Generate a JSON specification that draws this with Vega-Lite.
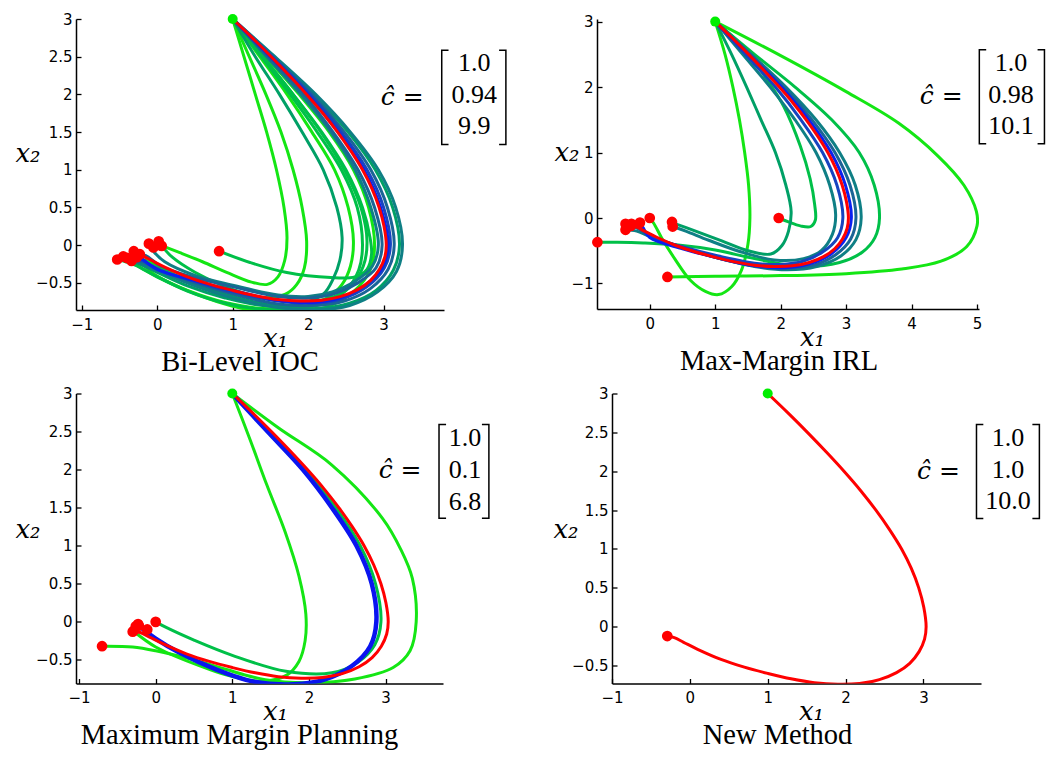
{
"$schema":"https://vega.github.io/schema/vega-lite/v6.json",
"background":"white",
"padding":{"left":14,"top":12,"right":0,"bottom":0},
"config":{
 "view":{"stroke":null},
 "axis":{"grid":false,"domainColor":"#000","domainWidth":1.5,"tickColor":"#000","tickWidth":1.3,"tickSize":-5,"labelFont":"DejaVu Sans","labelFontSize":15,"labelColor":"#000","labelFlush":false,"labelOverlap":false,"titleFont":"DejaVu Serif","titleFontStyle":"italic","titleFontWeight":"normal","titleFontSize":26,"titleColor":"#000"},
 "axisX":{"labelPadding":12,"titleBaseline":"alphabetic"},
 "axisY":{"labelPadding":9,"titleAngle":0,"titleAlign":"right","titleBaseline":"alphabetic"},
 "title":{"font":"Liberation Serif","fontSize":28.5,"fontWeight":"normal","color":"#000","orient":"bottom","anchor":"middle","frame":"group","offset":-3.3}
},
"spacing":9.5,
"vconcat":[
{"hconcat":[
 {"width":368,"height":291,"title":{"text":"Bi-Level IOC","dx":-20},
  "layer":[
   {"data":{"name":"traj1"},"mark":{"type":"line","strokeWidth":3,"clip":true,"interpolate":"catmull-rom"},
    "encoding":{
     "x":{"field":"x","type":"quantitative","scale":{"domain":[-1.076,3.8],"nice":false,"zero":false},"axis":{"values":[-1,0,1,2,3],"format":"~g","title":"x₁","titleX":199,"titleY":36}},
     "y":{"field":"y","type":"quantitative","scale":{"domain":[-0.86,3],"nice":false,"zero":false},"axis":{"values":[-0.5,0,0.5,1,1.5,2,2.5,3],"format":"~g","title":"x₂","titleX":-36,"titleY":142}},
     "color":{"field":"g","type":"nominal","scale":{"domain":["g1","g2","g3","g4","g5","g6","g7"],"range":["#14e614","#00c048","#00a066","#0f7f85","#1a6496","#1744c0","#0a20f0"]},"legend":null},
     "detail":{"field":"c"},
     "order":{"field":"i","type":"quantitative"}}},
   {"data":{"name":"truth"},"mark":{"type":"line","color":"#ff0000","strokeWidth":3,"clip":true,"interpolate":"catmull-rom"},
    "encoding":{"x":{"field":"x","type":"quantitative"},"y":{"field":"y","type":"quantitative"},"order":{"field":"i","type":"quantitative"}}},
   {"data":{"name":"ends1"},"mark":{"type":"point","filled":true,"shape":"circle","size":115,"color":"#ff0000","opacity":1},
    "encoding":{"x":{"field":"x","type":"quantitative"},"y":{"field":"y","type":"quantitative"}}},
   {"data":{"name":"start"},"mark":{"type":"point","filled":true,"shape":"circle","size":100,"color":"#00ee00","opacity":1},
    "encoding":{"x":{"field":"x","type":"quantitative"},"y":{"field":"y","type":"quantitative"}}},
   {"data":{"name":"br1"},"mark":{"type":"line","color":"#000","strokeWidth":1.5},
    "encoding":{"x":{"field":"x","type":"quantitative"},"y":{"field":"y","type":"quantitative"},"detail":{"field":"s"},"order":{"field":"i","type":"quantitative"}}},
   {"data":{"values":[{}]},"mark":{"type":"text","text":"ĉ =","font":"DejaVu Serif","fontStyle":"italic","fontSize":25,"align":"right","baseline":"middle"},
    "encoding":{"x":{"datum":3.53},"y":{"datum":1.96}}},
   {"data":{"values":[{}]},"mark":{"type":"text","text":["1.0","0.94","9.9"],"font":"Liberation Serif","fontSize":26,"align":"center","baseline":"middle","lineHeight":31.5},
    "encoding":{"x":{"datum":4.2},"y":{"datum":2.414}}}
  ]},
 {"width":382,"height":290,"title":{"text":"Max-Margin IRL","dx":-9},
  "layer":[
   {"data":{"name":"traj2"},"mark":{"type":"line","strokeWidth":3,"clip":true,"interpolate":"catmull-rom"},
    "encoding":{
     "x":{"field":"x","type":"quantitative","scale":{"domain":[-0.806,5.03],"nice":false,"zero":false},"axis":{"values":[0,1,2,3,4,5],"format":"~g","title":"x₁","titleX":215,"titleY":36}},
     "y":{"field":"y","type":"quantitative","scale":{"domain":[-1.39,3.04],"nice":false,"zero":false},"axis":{"values":[-1,0,1,2,3],"format":"~g","title":"x₂","titleX":-18,"titleY":141}},
     "color":{"field":"g","type":"nominal","scale":{"domain":["g1","g2","g3","g4","g5","g6","g7"],"range":["#14e614","#00c048","#00a066","#0f7f85","#1a6496","#1744c0","#0a20f0"]},"legend":null},
     "detail":{"field":"c"},
     "order":{"field":"i","type":"quantitative"}}},
   {"data":{"name":"truth"},"mark":{"type":"line","color":"#ff0000","strokeWidth":3,"clip":true,"interpolate":"catmull-rom"},
    "encoding":{"x":{"field":"x","type":"quantitative"},"y":{"field":"y","type":"quantitative"},"order":{"field":"i","type":"quantitative"}}},
   {"data":{"name":"ends2"},"mark":{"type":"point","filled":true,"shape":"circle","size":115,"color":"#ff0000","opacity":1},
    "encoding":{"x":{"field":"x","type":"quantitative"},"y":{"field":"y","type":"quantitative"}}},
   {"data":{"name":"start"},"mark":{"type":"point","filled":true,"shape":"circle","size":100,"color":"#00ee00","opacity":1},
    "encoding":{"x":{"field":"x","type":"quantitative"},"y":{"field":"y","type":"quantitative"}}},
   {"data":{"name":"br2"},"mark":{"type":"line","color":"#000","strokeWidth":1.5},
    "encoding":{"x":{"field":"x","type":"quantitative"},"y":{"field":"y","type":"quantitative"},"detail":{"field":"s"},"order":{"field":"i","type":"quantitative"}}},
   {"data":{"values":[{}]},"mark":{"type":"text","text":"ĉ =","font":"DejaVu Serif","fontStyle":"italic","fontSize":25,"align":"right","baseline":"middle"},
    "encoding":{"x":{"datum":4.78},"y":{"datum":1.858}}},
   {"data":{"values":[{}]},"mark":{"type":"text","text":["1.0","0.98","10.1"],"font":"Liberation Serif","fontSize":26,"align":"center","baseline":"middle","lineHeight":31.7},
    "encoding":{"x":{"datum":5.52},"y":{"datum":2.368}}}
  ]}
 ],"spacing":44},
{"hconcat":[
 {"width":367,"height":290,"title":{"text":"Maximum Margin Planning","dx":-20},
  "layer":[
   {"data":{"name":"traj3"},"mark":{"type":"line","strokeWidth":3,"clip":true,"interpolate":"catmull-rom"},
    "encoding":{
     "x":{"field":"x","type":"quantitative","scale":{"domain":[-1.04,3.75],"nice":false,"zero":false},"axis":{"values":[-1,0,1,2,3],"format":"~g","title":"x₁","titleX":199,"titleY":36}},
     "y":{"field":"y","type":"quantitative","scale":{"domain":[-0.81,3],"nice":false,"zero":false},"axis":{"values":[-0.5,0,0.5,1,1.5,2,2.5,3],"format":"~g","title":"x₂","titleX":-36,"titleY":144}},
     "color":{"field":"g","type":"nominal","scale":{"domain":["g1","g2","g3","g4","g5","g6","g7"],"range":["#14e614","#00c048","#00a066","#0f7f85","#1a6496","#1744c0","#0a20f0"]},"legend":null},
     "detail":{"field":"c"},
     "order":{"field":"i","type":"quantitative"}}},
   {"data":{"name":"traj3"},"transform":[{"filter":"datum.g == 'g7'"}],"mark":{"type":"line","strokeWidth":4.5,"color":"#0a14f0","clip":true,"interpolate":"catmull-rom"},
    "encoding":{"x":{"field":"x","type":"quantitative"},"y":{"field":"y","type":"quantitative"},"order":{"field":"i","type":"quantitative"}}},
   {"data":{"name":"truth"},"mark":{"type":"line","color":"#ff0000","strokeWidth":3,"clip":true,"interpolate":"catmull-rom"},
    "encoding":{"x":{"field":"x","type":"quantitative"},"y":{"field":"y","type":"quantitative"},"order":{"field":"i","type":"quantitative"}}},
   {"data":{"name":"ends3"},"mark":{"type":"point","filled":true,"shape":"circle","size":115,"color":"#ff0000","opacity":1},
    "encoding":{"x":{"field":"x","type":"quantitative"},"y":{"field":"y","type":"quantitative"}}},
   {"data":{"name":"start"},"mark":{"type":"point","filled":true,"shape":"circle","size":100,"color":"#00ee00","opacity":1},
    "encoding":{"x":{"field":"x","type":"quantitative"},"y":{"field":"y","type":"quantitative"}}},
   {"data":{"name":"br3"},"mark":{"type":"line","color":"#000","strokeWidth":1.5},
    "encoding":{"x":{"field":"x","type":"quantitative"},"y":{"field":"y","type":"quantitative"},"detail":{"field":"s"},"order":{"field":"i","type":"quantitative"}}},
   {"data":{"values":[{}]},"mark":{"type":"text","text":"ĉ =","font":"DejaVu Serif","fontStyle":"italic","fontSize":25,"align":"right","baseline":"middle"},
    "encoding":{"x":{"datum":3.47},"y":{"datum":1.993}}},
   {"data":{"values":[{}]},"mark":{"type":"text","text":["1.0","0.1","6.8"],"font":"Liberation Serif","fontSize":26,"align":"center","baseline":"middle","lineHeight":31.7},
    "encoding":{"x":{"datum":4.036},"y":{"datum":2.409}}}
  ]},
 {"width":369,"height":290,"title":{"text":"New Method","dx":-19},
  "layer":[
   {"data":{"name":"truth"},"mark":{"type":"line","color":"#ff0000","strokeWidth":3,"clip":true,"interpolate":"catmull-rom"},
    "encoding":{
     "x":{"field":"x","type":"quantitative","scale":{"domain":[-1,3.74],"nice":false,"zero":false},"axis":{"values":[-1,0,1,2,3],"format":"~g","title":"x₁","titleX":199,"titleY":36}},
     "y":{"field":"y","type":"quantitative","scale":{"domain":[-0.73,3],"nice":false,"zero":false},"axis":{"values":[-0.5,0,0.5,1,1.5,2,2.5,3],"format":"~g","title":"x₂","titleX":-34,"titleY":144}},
     "order":{"field":"i","type":"quantitative"}}},
   {"data":{"name":"ends4"},"mark":{"type":"point","filled":true,"shape":"circle","size":115,"color":"#ff0000","opacity":1},
    "encoding":{"x":{"field":"x","type":"quantitative"},"y":{"field":"y","type":"quantitative"}}},
   {"data":{"name":"start"},"mark":{"type":"point","filled":true,"shape":"circle","size":100,"color":"#00ee00","opacity":1},
    "encoding":{"x":{"field":"x","type":"quantitative"},"y":{"field":"y","type":"quantitative"}}},
   {"data":{"name":"br4"},"mark":{"type":"line","color":"#000","strokeWidth":1.5},
    "encoding":{"x":{"field":"x","type":"quantitative"},"y":{"field":"y","type":"quantitative"},"detail":{"field":"s"},"order":{"field":"i","type":"quantitative"}}},
   {"data":{"values":[{}]},"mark":{"type":"text","text":"ĉ =","font":"DejaVu Serif","fontStyle":"italic","fontSize":25,"align":"right","baseline":"middle"},
    "encoding":{"x":{"datum":3.469},"y":{"datum":2.0}}},
   {"data":{"values":[{}]},"mark":{"type":"text","text":["1.0","1.0","10.0"],"font":"Liberation Serif","fontSize":26,"align":"center","baseline":"middle","lineHeight":31.3},
    "encoding":{"x":{"datum":4.087},"y":{"datum":2.422}}}
  ]}
 ],"spacing":60}
],
"datasets":{
"start":[{"x":1,"y":3}],
"truth":[{"i":0,"x":1.0,"y":3.0},{"i":1,"x":1.26,"y":2.75},{"i":2,"x":1.51,"y":2.5},{"i":3,"x":1.75,"y":2.25},{"i":4,"x":1.98,"y":2.0},{"i":5,"x":2.195,"y":1.75},{"i":6,"x":2.39,"y":1.5},{"i":7,"x":2.565,"y":1.25},{"i":8,"x":2.72,"y":1.0},{"i":9,"x":2.845,"y":0.75},{"i":10,"x":2.94,"y":0.5},{"i":11,"x":3.005,"y":0.25},{"i":12,"x":3.035,"y":0.0},{"i":13,"x":3.015,"y":-0.16},{"i":14,"x":2.945,"y":-0.32},{"i":15,"x":2.825,"y":-0.47},{"i":16,"x":2.655,"y":-0.59},{"i":17,"x":2.435,"y":-0.68},{"i":18,"x":2.18,"y":-0.73},{"i":19,"x":1.9,"y":-0.74},{"i":20,"x":1.6,"y":-0.72},{"i":21,"x":1.3,"y":-0.67},{"i":22,"x":1.0,"y":-0.6},{"i":23,"x":0.7,"y":-0.52},{"i":24,"x":0.4,"y":-0.42},{"i":25,"x":0.1,"y":-0.29},{"i":26,"x":-0.08,"y":-0.2},{"i":27,"x":-0.2,"y":-0.14},{"i":28,"x":-0.29,"y":-0.12}],
"ends1":[{"x":-0.53,"y":-0.19},{"x":-0.45,"y":-0.15},{"x":-0.4,"y":-0.17},{"x":-0.34,"y":-0.21},{"x":-0.31,"y":-0.08},{"x":-0.27,"y":-0.16},{"x":-0.23,"y":-0.12},{"x":-0.29,"y":-0.12},{"x":-0.11,"y":0.02},{"x":-0.05,"y":-0.03},{"x":0.02,"y":0.05},{"x":0.06,"y":-0.01},{"x":0.04,"y":0.0},{"x":0.82,"y":-0.08}],
"ends2":[{"x":0,"y":0},{"x":-0.37,"y":-0.09},{"x":-0.37,"y":-0.18},{"x":-0.28,"y":-0.09},{"x":-0.15,"y":-0.07},{"x":0.34,"y":-0.06},{"x":0.35,"y":-0.13},{"x":1.97,"y":0.0},{"x":-0.8,"y":-0.37},{"x":0.27,"y":-0.9},{"x":-0.29,"y":-0.12}],
"ends3":[{"x":-0.7,"y":-0.32},{"x":-0.3,"y":-0.13},{"x":-0.26,"y":-0.06},{"x":-0.23,"y":-0.03},{"x":0.0,"y":0.0},{"x":-0.11,"y":-0.1},{"x":-0.22,"y":-0.05},{"x":-0.29,"y":-0.12}],
"ends4":[{"x":-0.29,"y":-0.12}],
"br1":[{"s":"L","i":0,"x":3.86,"y":2.587},{"s":"L","i":1,"x":3.77,"y":2.587},{"s":"L","i":2,"x":3.77,"y":1.336},{"s":"L","i":3,"x":3.86,"y":1.336},{"s":"R","i":0,"x":4.53,"y":2.587},{"s":"R","i":1,"x":4.62,"y":2.587},{"s":"R","i":2,"x":4.62,"y":1.336},{"s":"R","i":3,"x":4.53,"y":1.336}],
"br2":[{"s":"L","i":0,"x":5.14,"y":2.572},{"s":"L","i":1,"x":5.035,"y":2.572},{"s":"L","i":2,"x":5.035,"y":1.135},{"s":"L","i":3,"x":5.14,"y":1.135},{"s":"R","i":0,"x":5.925,"y":2.572},{"s":"R","i":1,"x":6.03,"y":2.572},{"s":"R","i":2,"x":6.03,"y":1.135},{"s":"R","i":3,"x":5.925,"y":1.135}],
"br3":[{"s":"L","i":0,"x":3.79,"y":2.593},{"s":"L","i":1,"x":3.698,"y":2.593},{"s":"L","i":2,"x":3.698,"y":1.36},{"s":"L","i":3,"x":3.79,"y":1.36},{"s":"R","i":0,"x":4.258,"y":2.593},{"s":"R","i":1,"x":4.349,"y":2.593},{"s":"R","i":2,"x":4.349,"y":1.36},{"s":"R","i":3,"x":4.258,"y":1.36}],
"br4":[{"s":"L","i":0,"x":3.77,"y":2.602},{"s":"L","i":1,"x":3.682,"y":2.602},{"s":"L","i":2,"x":3.682,"y":1.393},{"s":"L","i":3,"x":3.77,"y":1.393},{"s":"R","i":0,"x":4.4,"y":2.602},{"s":"R","i":1,"x":4.49,"y":2.602},{"s":"R","i":2,"x":4.49,"y":1.393},{"s":"R","i":3,"x":4.4,"y":1.393}],
"traj1":[
{"c":"a","g":"g1","i":0,"x":1,"y":3},{"c":"a","g":"g1","i":1,"x":1.15,"y":2.5},{"c":"a","g":"g1","i":2,"x":1.3,"y":2},{"c":"a","g":"g1","i":3,"x":1.45,"y":1.5},{"c":"a","g":"g1","i":4,"x":1.58,"y":1},{"c":"a","g":"g1","i":5,"x":1.68,"y":0.5},{"c":"a","g":"g1","i":6,"x":1.72,"y":0.1},{"c":"a","g":"g1","i":7,"x":1.69,"y":-0.2},{"c":"a","g":"g1","i":8,"x":1.6,"y":-0.42},{"c":"a","g":"g1","i":9,"x":1.46,"y":-0.52},{"c":"a","g":"g1","i":10,"x":1.25,"y":-0.49},{"c":"a","g":"g1","i":11,"x":0.92,"y":-0.36},{"c":"a","g":"g1","i":12,"x":0.6,"y":-0.22},{"c":"a","g":"g1","i":13,"x":0.3,"y":-0.1},{"c":"a","g":"g1","i":14,"x":0.04,"y":0},
{"c":"b","g":"g1","i":0,"x":1,"y":3},{"c":"b","g":"g1","i":1,"x":1.22,"y":2.5},{"c":"b","g":"g1","i":2,"x":1.44,"y":2},{"c":"b","g":"g1","i":3,"x":1.64,"y":1.5},{"c":"b","g":"g1","i":4,"x":1.8,"y":1},{"c":"b","g":"g1","i":5,"x":1.92,"y":0.5},{"c":"b","g":"g1","i":6,"x":1.98,"y":0.05},{"c":"b","g":"g1","i":7,"x":1.95,"y":-0.3},{"c":"b","g":"g1","i":8,"x":1.85,"y":-0.52},{"c":"b","g":"g1","i":9,"x":1.7,"y":-0.65},{"c":"b","g":"g1","i":10,"x":1.4,"y":-0.7},{"c":"b","g":"g1","i":11,"x":1,"y":-0.64},{"c":"b","g":"g1","i":12,"x":0.5,"y":-0.5},{"c":"b","g":"g1","i":13,"x":0.1,"y":-0.33},{"c":"b","g":"g1","i":14,"x":-0.15,"y":-0.2},{"c":"b","g":"g1","i":15,"x":-0.34,"y":-0.21},
{"c":"d","g":"g1","i":0,"x":1,"y":3},{"c":"d","g":"g1","i":1,"x":1.36,"y":2.5},{"c":"d","g":"g1","i":2,"x":1.72,"y":2},{"c":"d","g":"g1","i":3,"x":2.05,"y":1.5},{"c":"d","g":"g1","i":4,"x":2.35,"y":1},{"c":"d","g":"g1","i":5,"x":2.53,"y":0.5},{"c":"d","g":"g1","i":6,"x":2.6,"y":0.05},{"c":"d","g":"g1","i":7,"x":2.56,"y":-0.28},{"c":"d","g":"g1","i":8,"x":2.45,"y":-0.52},{"c":"d","g":"g1","i":9,"x":2.25,"y":-0.7},{"c":"d","g":"g1","i":10,"x":1.9,"y":-0.82},{"c":"d","g":"g1","i":11,"x":1.4,"y":-0.84},{"c":"d","g":"g1","i":12,"x":0.9,"y":-0.76},{"c":"d","g":"g1","i":13,"x":0.4,"y":-0.6},{"c":"d","g":"g1","i":14,"x":0,"y":-0.42},{"c":"d","g":"g1","i":15,"x":-0.25,"y":-0.28},{"c":"d","g":"g1","i":16,"x":-0.4,"y":-0.17},
{"c":"g","g":"g1","i":0,"x":1,"y":3},{"c":"g","g":"g1","i":1,"x":1.44,"y":2.5},{"c":"g","g":"g1","i":2,"x":1.88,"y":2},{"c":"g","g":"g1","i":3,"x":2.28,"y":1.5},{"c":"g","g":"g1","i":4,"x":2.6,"y":1},{"c":"g","g":"g1","i":5,"x":2.8,"y":0.5},{"c":"g","g":"g1","i":6,"x":2.88,"y":0},{"c":"g","g":"g1","i":7,"x":2.82,"y":-0.33},{"c":"g","g":"g1","i":8,"x":2.62,"y":-0.6},{"c":"g","g":"g1","i":9,"x":2.3,"y":-0.8},{"c":"g","g":"g1","i":10,"x":1.9,"y":-0.89},{"c":"g","g":"g1","i":11,"x":1.3,"y":-0.87},{"c":"g","g":"g1","i":12,"x":0.8,"y":-0.75},{"c":"g","g":"g1","i":13,"x":0.3,"y":-0.56},{"c":"g","g":"g1","i":14,"x":-0.05,"y":-0.38},{"c":"g","g":"g1","i":15,"x":-0.2,"y":-0.24},{"c":"g","g":"g1","i":16,"x":-0.27,"y":-0.16},
{"c":"e","g":"g2","i":0,"x":1,"y":3},{"c":"e","g":"g2","i":1,"x":1.4,"y":2.5},{"c":"e","g":"g2","i":2,"x":1.8,"y":2},{"c":"e","g":"g2","i":3,"x":2.18,"y":1.5},{"c":"e","g":"g2","i":4,"x":2.5,"y":1},{"c":"e","g":"g2","i":5,"x":2.72,"y":0.5},{"c":"e","g":"g2","i":6,"x":2.82,"y":0.1},{"c":"e","g":"g2","i":7,"x":2.84,"y":-0.12},{"c":"e","g":"g2","i":8,"x":2.78,"y":-0.32},{"c":"e","g":"g2","i":9,"x":2.62,"y":-0.42},{"c":"e","g":"g2","i":10,"x":2.3,"y":-0.43},{"c":"e","g":"g2","i":11,"x":1.7,"y":-0.36},{"c":"e","g":"g2","i":12,"x":1.23,"y":-0.23},{"c":"e","g":"g2","i":13,"x":0.82,"y":-0.08},
{"c":"f","g":"g2","i":0,"x":1,"y":3},{"c":"f","g":"g2","i":1,"x":1.38,"y":2.5},{"c":"f","g":"g2","i":2,"x":1.76,"y":2},{"c":"f","g":"g2","i":3,"x":2.12,"y":1.5},{"c":"f","g":"g2","i":4,"x":2.44,"y":1},{"c":"f","g":"g2","i":5,"x":2.65,"y":0.5},{"c":"f","g":"g2","i":6,"x":2.72,"y":0},{"c":"f","g":"g2","i":7,"x":2.67,"y":-0.33},{"c":"f","g":"g2","i":8,"x":2.5,"y":-0.6},{"c":"f","g":"g2","i":9,"x":2.25,"y":-0.76},{"c":"f","g":"g2","i":10,"x":1.9,"y":-0.84},{"c":"f","g":"g2","i":11,"x":1.4,"y":-0.85},{"c":"f","g":"g2","i":12,"x":0.9,"y":-0.77},{"c":"f","g":"g2","i":13,"x":0.4,"y":-0.61},{"c":"f","g":"g2","i":14,"x":0,"y":-0.42},{"c":"f","g":"g2","i":15,"x":-0.3,"y":-0.26},{"c":"f","g":"g2","i":16,"x":-0.53,"y":-0.19},
{"c":"o","g":"g2","i":0,"x":1,"y":3},{"c":"o","g":"g2","i":1,"x":1.4,"y":2.5},{"c":"o","g":"g2","i":2,"x":1.8,"y":2},{"c":"o","g":"g2","i":3,"x":2.17,"y":1.5},{"c":"o","g":"g2","i":4,"x":2.48,"y":1},{"c":"o","g":"g2","i":5,"x":2.7,"y":0.5},{"c":"o","g":"g2","i":6,"x":2.78,"y":0.05},{"c":"o","g":"g2","i":7,"x":2.73,"y":-0.28},{"c":"o","g":"g2","i":8,"x":2.56,"y":-0.55},{"c":"o","g":"g2","i":9,"x":2.3,"y":-0.7},{"c":"o","g":"g2","i":10,"x":1.9,"y":-0.75},{"c":"o","g":"g2","i":11,"x":1.4,"y":-0.7},{"c":"o","g":"g2","i":12,"x":0.9,"y":-0.55},{"c":"o","g":"g2","i":13,"x":0.5,"y":-0.36},{"c":"o","g":"g2","i":14,"x":0.2,"y":-0.16},{"c":"o","g":"g2","i":15,"x":0.06,"y":-0.01},
{"c":"c","g":"g3","i":0,"x":1,"y":3},{"c":"c","g":"g3","i":1,"x":1.3,"y":2.5},{"c":"c","g":"g3","i":2,"x":1.62,"y":2},{"c":"c","g":"g3","i":3,"x":1.92,"y":1.5},{"c":"c","g":"g3","i":4,"x":2.2,"y":1},{"c":"c","g":"g3","i":5,"x":2.38,"y":0.5},{"c":"c","g":"g3","i":6,"x":2.45,"y":0.1},{"c":"c","g":"g3","i":7,"x":2.42,"y":-0.2},{"c":"c","g":"g3","i":8,"x":2.33,"y":-0.45},{"c":"c","g":"g3","i":9,"x":2.2,"y":-0.65},{"c":"c","g":"g3","i":10,"x":1.9,"y":-0.78},{"c":"c","g":"g3","i":11,"x":1.4,"y":-0.8},{"c":"c","g":"g3","i":12,"x":0.9,"y":-0.7},{"c":"c","g":"g3","i":13,"x":0.4,"y":-0.54},{"c":"c","g":"g3","i":14,"x":0,"y":-0.36},{"c":"c","g":"g3","i":15,"x":-0.3,"y":-0.22},{"c":"c","g":"g3","i":16,"x":-0.45,"y":-0.15},
{"c":"i","g":"g3","i":0,"x":1,"y":3},{"c":"i","g":"g3","i":1,"x":1.55,"y":2.5},{"c":"i","g":"g3","i":2,"x":2.08,"y":2},{"c":"i","g":"g3","i":3,"x":2.53,"y":1.5},{"c":"i","g":"g3","i":4,"x":2.89,"y":1},{"c":"i","g":"g3","i":5,"x":3.12,"y":0.5},{"c":"i","g":"g3","i":6,"x":3.21,"y":0},{"c":"i","g":"g3","i":7,"x":3.13,"y":-0.33},{"c":"i","g":"g3","i":8,"x":2.9,"y":-0.6},{"c":"i","g":"g3","i":9,"x":2.55,"y":-0.77},{"c":"i","g":"g3","i":10,"x":2.1,"y":-0.84},{"c":"i","g":"g3","i":11,"x":1.6,"y":-0.81},{"c":"i","g":"g3","i":12,"x":1,"y":-0.68},{"c":"i","g":"g3","i":13,"x":0.5,"y":-0.52},{"c":"i","g":"g3","i":14,"x":0.05,"y":-0.34},{"c":"i","g":"g3","i":15,"x":-0.25,"y":-0.22},{"c":"i","g":"g3","i":16,"x":-0.45,"y":-0.15},
{"c":"h","g":"g4","i":0,"x":1,"y":3},{"c":"h","g":"g4","i":1,"x":1.56,"y":2.5},{"c":"h","g":"g4","i":2,"x":2.1,"y":2},{"c":"h","g":"g4","i":3,"x":2.56,"y":1.5},{"c":"h","g":"g4","i":4,"x":2.93,"y":1},{"c":"h","g":"g4","i":5,"x":3.16,"y":0.5},{"c":"h","g":"g4","i":6,"x":3.25,"y":0},{"c":"h","g":"g4","i":7,"x":3.17,"y":-0.35},{"c":"h","g":"g4","i":8,"x":2.92,"y":-0.62},{"c":"h","g":"g4","i":9,"x":2.55,"y":-0.8},{"c":"h","g":"g4","i":10,"x":2.1,"y":-0.86},{"c":"h","g":"g4","i":11,"x":1.55,"y":-0.82},{"c":"h","g":"g4","i":12,"x":1,"y":-0.7},{"c":"h","g":"g4","i":13,"x":0.5,"y":-0.54},{"c":"h","g":"g4","i":14,"x":0.05,"y":-0.36},{"c":"h","g":"g4","i":15,"x":-0.3,"y":-0.22},{"c":"h","g":"g4","i":16,"x":-0.52,"y":-0.19},
{"c":"n","g":"g4","i":0,"x":1,"y":3},{"c":"n","g":"g4","i":1,"x":1.45,"y":2.5},{"c":"n","g":"g4","i":2,"x":1.9,"y":2},{"c":"n","g":"g4","i":3,"x":2.3,"y":1.5},{"c":"n","g":"g4","i":4,"x":2.62,"y":1},{"c":"n","g":"g4","i":5,"x":2.83,"y":0.5},{"c":"n","g":"g4","i":6,"x":2.93,"y":0},{"c":"n","g":"g4","i":7,"x":2.85,"y":-0.28},{"c":"n","g":"g4","i":8,"x":2.62,"y":-0.48},{"c":"n","g":"g4","i":9,"x":2.32,"y":-0.62},{"c":"n","g":"g4","i":10,"x":2,"y":-0.68},{"c":"n","g":"g4","i":11,"x":1.6,"y":-0.66},{"c":"n","g":"g4","i":12,"x":1,"y":-0.53},{"c":"n","g":"g4","i":13,"x":0.5,"y":-0.4},{"c":"n","g":"g4","i":14,"x":0.1,"y":-0.22},{"c":"n","g":"g4","i":15,"x":-0.05,"y":-0.08},{"c":"n","g":"g4","i":16,"x":-0.11,"y":0.02},
{"c":"j","g":"g5","i":0,"x":1,"y":3},{"c":"j","g":"g5","i":1,"x":1.53,"y":2.5},{"c":"j","g":"g5","i":2,"x":2.05,"y":2},{"c":"j","g":"g5","i":3,"x":2.48,"y":1.5},{"c":"j","g":"g5","i":4,"x":2.83,"y":1},{"c":"j","g":"g5","i":5,"x":3.05,"y":0.5},{"c":"j","g":"g5","i":6,"x":3.14,"y":0},{"c":"j","g":"g5","i":7,"x":3.06,"y":-0.32},{"c":"j","g":"g5","i":8,"x":2.82,"y":-0.58},{"c":"j","g":"g5","i":9,"x":2.48,"y":-0.74},{"c":"j","g":"g5","i":10,"x":2.05,"y":-0.8},{"c":"j","g":"g5","i":11,"x":1.6,"y":-0.78},{"c":"j","g":"g5","i":12,"x":1,"y":-0.65},{"c":"j","g":"g5","i":13,"x":0.5,"y":-0.5},{"c":"j","g":"g5","i":14,"x":0.05,"y":-0.33},{"c":"j","g":"g5","i":15,"x":-0.2,"y":-0.22},{"c":"j","g":"g5","i":16,"x":-0.34,"y":-0.21},
{"c":"m","g":"g5","i":0,"x":1,"y":3},{"c":"m","g":"g5","i":1,"x":1.47,"y":2.5},{"c":"m","g":"g5","i":2,"x":1.94,"y":2},{"c":"m","g":"g5","i":3,"x":2.33,"y":1.5},{"c":"m","g":"g5","i":4,"x":2.66,"y":1},{"c":"m","g":"g5","i":5,"x":2.88,"y":0.5},{"c":"m","g":"g5","i":6,"x":2.98,"y":0},{"c":"m","g":"g5","i":7,"x":2.9,"y":-0.3},{"c":"m","g":"g5","i":8,"x":2.66,"y":-0.5},{"c":"m","g":"g5","i":9,"x":2.36,"y":-0.64},{"c":"m","g":"g5","i":10,"x":2.02,"y":-0.7},{"c":"m","g":"g5","i":11,"x":1.6,"y":-0.68},{"c":"m","g":"g5","i":12,"x":1,"y":-0.55},{"c":"m","g":"g5","i":13,"x":0.5,"y":-0.43},{"c":"m","g":"g5","i":14,"x":0.05,"y":-0.28},{"c":"m","g":"g5","i":15,"x":-0.15,"y":-0.14},{"c":"m","g":"g5","i":16,"x":-0.23,"y":-0.12},
{"c":"k","g":"g6","i":0,"x":1,"y":3},{"c":"k","g":"g6","i":1,"x":1.52,"y":2.5},{"c":"k","g":"g6","i":2,"x":2.02,"y":2},{"c":"k","g":"g6","i":3,"x":2.44,"y":1.5},{"c":"k","g":"g6","i":4,"x":2.78,"y":1},{"c":"k","g":"g6","i":5,"x":3,"y":0.5},{"c":"k","g":"g6","i":6,"x":3.09,"y":0},{"c":"k","g":"g6","i":7,"x":3.01,"y":-0.3},{"c":"k","g":"g6","i":8,"x":2.78,"y":-0.55},{"c":"k","g":"g6","i":9,"x":2.45,"y":-0.71},{"c":"k","g":"g6","i":10,"x":2.05,"y":-0.77},{"c":"k","g":"g6","i":11,"x":1.6,"y":-0.74},{"c":"k","g":"g6","i":12,"x":1,"y":-0.62},{"c":"k","g":"g6","i":13,"x":0.5,"y":-0.48},{"c":"k","g":"g6","i":14,"x":0,"y":-0.32},{"c":"k","g":"g6","i":15,"x":-0.2,"y":-0.2},{"c":"k","g":"g6","i":16,"x":-0.4,"y":-0.17},
{"c":"l","g":"g7","i":0,"x":1,"y":3},{"c":"l","g":"g7","i":1,"x":1.5,"y":2.5},{"c":"l","g":"g7","i":2,"x":1.99,"y":2},{"c":"l","g":"g7","i":3,"x":2.4,"y":1.5},{"c":"l","g":"g7","i":4,"x":2.74,"y":1},{"c":"l","g":"g7","i":5,"x":2.96,"y":0.5},{"c":"l","g":"g7","i":6,"x":3.06,"y":0},{"c":"l","g":"g7","i":7,"x":2.98,"y":-0.3},{"c":"l","g":"g7","i":8,"x":2.74,"y":-0.54},{"c":"l","g":"g7","i":9,"x":2.42,"y":-0.7},{"c":"l","g":"g7","i":10,"x":2.05,"y":-0.76},{"c":"l","g":"g7","i":11,"x":1.6,"y":-0.73},{"c":"l","g":"g7","i":12,"x":1,"y":-0.6},{"c":"l","g":"g7","i":13,"x":0.5,"y":-0.47},{"c":"l","g":"g7","i":14,"x":0,"y":-0.32},{"c":"l","g":"g7","i":15,"x":-0.2,"y":-0.18},{"c":"l","g":"g7","i":16,"x":-0.31,"y":-0.08}
],
"traj2":[
{"c":"big","g":"g1","i":0,"x":1,"y":3},{"c":"big","g":"g1","i":1,"x":2,"y":2.48},{"c":"big","g":"g1","i":2,"x":3,"y":1.93},{"c":"big","g":"g1","i":3,"x":3.8,"y":1.45},{"c":"big","g":"g1","i":4,"x":4.4,"y":0.95},{"c":"big","g":"g1","i":5,"x":4.8,"y":0.5},{"c":"big","g":"g1","i":6,"x":4.99,"y":0.1},{"c":"big","g":"g1","i":7,"x":5,"y":-0.12},{"c":"big","g":"g1","i":8,"x":4.84,"y":-0.44},{"c":"big","g":"g1","i":9,"x":4.45,"y":-0.66},{"c":"big","g":"g1","i":10,"x":3.85,"y":-0.78},{"c":"big","g":"g1","i":11,"x":3,"y":-0.85},{"c":"big","g":"g1","i":12,"x":2,"y":-0.88},{"c":"big","g":"g1","i":13,"x":1,"y":-0.89},{"c":"big","g":"g1","i":14,"x":0.27,"y":-0.9},
{"c":"loop","g":"g1","i":0,"x":1,"y":3},{"c":"loop","g":"g1","i":1,"x":1.15,"y":2.5},{"c":"loop","g":"g1","i":2,"x":1.27,"y":2},{"c":"loop","g":"g1","i":3,"x":1.37,"y":1.5},{"c":"loop","g":"g1","i":4,"x":1.45,"y":1},{"c":"loop","g":"g1","i":5,"x":1.51,"y":0.5},{"c":"loop","g":"g1","i":6,"x":1.53,"y":0},{"c":"loop","g":"g1","i":7,"x":1.5,"y":-0.4},{"c":"loop","g":"g1","i":8,"x":1.4,"y":-0.8},{"c":"loop","g":"g1","i":9,"x":1.25,"y":-1.05},{"c":"loop","g":"g1","i":10,"x":1.05,"y":-1.17},{"c":"loop","g":"g1","i":11,"x":0.85,"y":-1.12},{"c":"loop","g":"g1","i":12,"x":0.62,"y":-0.95},{"c":"loop","g":"g1","i":13,"x":0.38,"y":-0.62},{"c":"loop","g":"g1","i":14,"x":0.18,"y":-0.3},{"c":"loop","g":"g1","i":15,"x":0.06,"y":-0.08},{"c":"loop","g":"g1","i":16,"x":0,"y":0},
{"c":"p","g":"g2","i":0,"x":1,"y":3},{"c":"p","g":"g2","i":1,"x":1.47,"y":2.57},{"c":"p","g":"g2","i":2,"x":1.8,"y":2.1},{"c":"p","g":"g2","i":3,"x":2.05,"y":1.7},{"c":"p","g":"g2","i":4,"x":2.3,"y":1.1},{"c":"p","g":"g2","i":5,"x":2.45,"y":0.6},{"c":"p","g":"g2","i":6,"x":2.52,"y":0.2},{"c":"p","g":"g2","i":7,"x":2.53,"y":-0.03},{"c":"p","g":"g2","i":8,"x":2.46,"y":-0.13},{"c":"p","g":"g2","i":9,"x":2.3,"y":-0.12},{"c":"p","g":"g2","i":10,"x":2.12,"y":-0.06},{"c":"p","g":"g2","i":11,"x":1.97,"y":0},
{"c":"q","g":"g2","i":0,"x":1,"y":3},{"c":"q","g":"g2","i":1,"x":1.6,"y":2.5},{"c":"q","g":"g2","i":2,"x":2.22,"y":2},{"c":"q","g":"g2","i":3,"x":2.78,"y":1.5},{"c":"q","g":"g2","i":4,"x":3.2,"y":1},{"c":"q","g":"g2","i":5,"x":3.43,"y":0.5},{"c":"q","g":"g2","i":6,"x":3.51,"y":0},{"c":"q","g":"g2","i":7,"x":3.44,"y":-0.3},{"c":"q","g":"g2","i":8,"x":3.25,"y":-0.52},{"c":"q","g":"g2","i":9,"x":2.9,"y":-0.68},{"c":"q","g":"g2","i":10,"x":2.3,"y":-0.74},{"c":"q","g":"g2","i":11,"x":1.6,"y":-0.62},{"c":"q","g":"g2","i":12,"x":1,"y":-0.49},{"c":"q","g":"g2","i":13,"x":0.4,"y":-0.41},{"c":"q","g":"g2","i":14,"x":-0.1,"y":-0.38},{"c":"q","g":"g2","i":15,"x":-0.5,"y":-0.37},{"c":"q","g":"g2","i":16,"x":-0.8,"y":-0.37},
{"c":"r","g":"g3","i":0,"x":1,"y":3},{"c":"r","g":"g3","i":1,"x":1.25,"y":2.5},{"c":"r","g":"g3","i":2,"x":1.48,"y":2},{"c":"r","g":"g3","i":3,"x":1.7,"y":1.5},{"c":"r","g":"g3","i":4,"x":1.92,"y":1},{"c":"r","g":"g3","i":5,"x":2.08,"y":0.5},{"c":"r","g":"g3","i":6,"x":2.16,"y":0.1},{"c":"r","g":"g3","i":7,"x":2.12,"y":-0.2},{"c":"r","g":"g3","i":8,"x":2.02,"y":-0.42},{"c":"r","g":"g3","i":9,"x":1.85,"y":-0.55},{"c":"r","g":"g3","i":10,"x":1.5,"y":-0.5},{"c":"r","g":"g3","i":11,"x":1.1,"y":-0.35},{"c":"r","g":"g3","i":12,"x":0.7,"y":-0.2},{"c":"r","g":"g3","i":13,"x":0.34,"y":-0.07},
{"c":"s","g":"g4","i":0,"x":1,"y":3},{"c":"s","g":"g4","i":1,"x":1.42,"y":2.5},{"c":"s","g":"g4","i":2,"x":1.84,"y":2},{"c":"s","g":"g4","i":3,"x":2.22,"y":1.5},{"c":"s","g":"g4","i":4,"x":2.54,"y":1},{"c":"s","g":"g4","i":5,"x":2.75,"y":0.5},{"c":"s","g":"g4","i":6,"x":2.84,"y":0.05},{"c":"s","g":"g4","i":7,"x":2.79,"y":-0.25},{"c":"s","g":"g4","i":8,"x":2.62,"y":-0.5},{"c":"s","g":"g4","i":9,"x":2.35,"y":-0.62},{"c":"s","g":"g4","i":10,"x":1.9,"y":-0.64},{"c":"s","g":"g4","i":11,"x":1.4,"y":-0.52},{"c":"s","g":"g4","i":12,"x":0.9,"y":-0.34},{"c":"s","g":"g4","i":13,"x":0.55,"y":-0.2},{"c":"s","g":"g4","i":14,"x":0.35,"y":-0.13},
{"c":"t","g":"g4","i":0,"x":1,"y":3},{"c":"t","g":"g4","i":1,"x":1.55,"y":2.5},{"c":"t","g":"g4","i":2,"x":2.08,"y":2},{"c":"t","g":"g4","i":3,"x":2.54,"y":1.5},{"c":"t","g":"g4","i":4,"x":2.9,"y":1},{"c":"t","g":"g4","i":5,"x":3.14,"y":0.5},{"c":"t","g":"g4","i":6,"x":3.23,"y":0},{"c":"t","g":"g4","i":7,"x":3.15,"y":-0.33},{"c":"t","g":"g4","i":8,"x":2.92,"y":-0.58},{"c":"t","g":"g4","i":9,"x":2.55,"y":-0.74},{"c":"t","g":"g4","i":10,"x":2.1,"y":-0.79},{"c":"t","g":"g4","i":11,"x":1.6,"y":-0.74},{"c":"t","g":"g4","i":12,"x":1,"y":-0.6},{"c":"t","g":"g4","i":13,"x":0.5,"y":-0.45},{"c":"t","g":"g4","i":14,"x":0,"y":-0.28},{"c":"t","g":"g4","i":15,"x":-0.2,"y":-0.2},{"c":"t","g":"g4","i":16,"x":-0.37,"y":-0.18},
{"c":"u","g":"g5","i":0,"x":1,"y":3},{"c":"u","g":"g5","i":1,"x":1.53,"y":2.5},{"c":"u","g":"g5","i":2,"x":2.05,"y":2},{"c":"u","g":"g5","i":3,"x":2.48,"y":1.5},{"c":"u","g":"g5","i":4,"x":2.83,"y":1},{"c":"u","g":"g5","i":5,"x":3.06,"y":0.5},{"c":"u","g":"g5","i":6,"x":3.15,"y":0},{"c":"u","g":"g5","i":7,"x":3.07,"y":-0.32},{"c":"u","g":"g5","i":8,"x":2.84,"y":-0.56},{"c":"u","g":"g5","i":9,"x":2.5,"y":-0.72},{"c":"u","g":"g5","i":10,"x":2.07,"y":-0.77},{"c":"u","g":"g5","i":11,"x":1.6,"y":-0.73},{"c":"u","g":"g5","i":12,"x":1,"y":-0.6},{"c":"u","g":"g5","i":13,"x":0.5,"y":-0.45},{"c":"u","g":"g5","i":14,"x":0,"y":-0.27},{"c":"u","g":"g5","i":15,"x":-0.2,"y":-0.15},{"c":"u","g":"g5","i":16,"x":-0.37,"y":-0.1},
{"c":"v","g":"g6","i":0,"x":1,"y":3},{"c":"v","g":"g6","i":1,"x":1.46,"y":2.5},{"c":"v","g":"g6","i":2,"x":1.92,"y":2},{"c":"v","g":"g6","i":3,"x":2.31,"y":1.5},{"c":"v","g":"g6","i":4,"x":2.64,"y":1},{"c":"v","g":"g6","i":5,"x":2.86,"y":0.5},{"c":"v","g":"g6","i":6,"x":2.95,"y":0},{"c":"v","g":"g6","i":7,"x":2.87,"y":-0.3},{"c":"v","g":"g6","i":8,"x":2.64,"y":-0.52},{"c":"v","g":"g6","i":9,"x":2.34,"y":-0.66},{"c":"v","g":"g6","i":10,"x":2,"y":-0.71},{"c":"v","g":"g6","i":11,"x":1.6,"y":-0.69},{"c":"v","g":"g6","i":12,"x":1,"y":-0.57},{"c":"v","g":"g6","i":13,"x":0.5,"y":-0.44},{"c":"v","g":"g6","i":14,"x":0,"y":-0.28},{"c":"v","g":"g6","i":15,"x":-0.15,"y":-0.15},{"c":"v","g":"g6","i":16,"x":-0.28,"y":-0.1},
{"c":"w","g":"g7","i":0,"x":1,"y":3},{"c":"w","g":"g7","i":1,"x":1.51,"y":2.5},{"c":"w","g":"g7","i":2,"x":2.01,"y":2},{"c":"w","g":"g7","i":3,"x":2.43,"y":1.5},{"c":"w","g":"g7","i":4,"x":2.77,"y":1},{"c":"w","g":"g7","i":5,"x":2.99,"y":0.5},{"c":"w","g":"g7","i":6,"x":3.08,"y":0},{"c":"w","g":"g7","i":7,"x":3,"y":-0.3},{"c":"w","g":"g7","i":8,"x":2.77,"y":-0.55},{"c":"w","g":"g7","i":9,"x":2.44,"y":-0.7},{"c":"w","g":"g7","i":10,"x":2.05,"y":-0.76},{"c":"w","g":"g7","i":11,"x":1.6,"y":-0.73},{"c":"w","g":"g7","i":12,"x":1,"y":-0.6},{"c":"w","g":"g7","i":13,"x":0.5,"y":-0.47},{"c":"w","g":"g7","i":14,"x":0,"y":-0.3},{"c":"w","g":"g7","i":15,"x":-0.1,"y":-0.15},{"c":"w","g":"g7","i":16,"x":-0.15,"y":-0.07}
],
"traj3":[
{"c":"outer","g":"g1","i":0,"x":1,"y":3},{"c":"outer","g":"g1","i":1,"x":1.6,"y":2.55},{"c":"outer","g":"g1","i":2,"x":2.3,"y":2.06},{"c":"outer","g":"g1","i":3,"x":2.96,"y":1.36},{"c":"outer","g":"g1","i":4,"x":3.2,"y":0.95},{"c":"outer","g":"g1","i":5,"x":3.35,"y":0.57},{"c":"outer","g":"g1","i":6,"x":3.4,"y":0},{"c":"outer","g":"g1","i":7,"x":3.32,"y":-0.38},{"c":"outer","g":"g1","i":8,"x":3.1,"y":-0.6},{"c":"outer","g":"g1","i":9,"x":2.6,"y":-0.75},{"c":"outer","g":"g1","i":10,"x":2,"y":-0.8},{"c":"outer","g":"g1","i":11,"x":1.43,"y":-0.76},{"c":"outer","g":"g1","i":12,"x":0.9,"y":-0.62},{"c":"outer","g":"g1","i":13,"x":0.57,"y":-0.52},{"c":"outer","g":"g1","i":14,"x":0,"y":-0.38},{"c":"outer","g":"g1","i":15,"x":-0.3,"y":-0.33},{"c":"outer","g":"g1","i":16,"x":-0.7,"y":-0.32},
{"c":"inner","g":"g1","i":0,"x":1,"y":3},{"c":"inner","g":"g1","i":1,"x":1.23,"y":2.4},{"c":"inner","g":"g1","i":2,"x":1.45,"y":1.8},{"c":"inner","g":"g1","i":3,"x":1.69,"y":1.18},{"c":"inner","g":"g1","i":4,"x":1.87,"y":0.6},{"c":"inner","g":"g1","i":5,"x":1.96,"y":0.1},{"c":"inner","g":"g1","i":6,"x":1.95,"y":-0.25},{"c":"inner","g":"g1","i":7,"x":1.87,"y":-0.52},{"c":"inner","g":"g1","i":8,"x":1.71,"y":-0.7},{"c":"inner","g":"g1","i":9,"x":1.4,"y":-0.78},{"c":"inner","g":"g1","i":10,"x":1,"y":-0.72},{"c":"inner","g":"g1","i":11,"x":0.5,"y":-0.55},{"c":"inner","g":"g1","i":12,"x":0,"y":-0.33},{"c":"inner","g":"g1","i":13,"x":-0.28,"y":-0.13},
{"c":"mid","g":"g2","i":0,"x":1,"y":3},{"c":"mid","g":"g2","i":1,"x":1.48,"y":2.5},{"c":"mid","g":"g2","i":2,"x":1.95,"y":2},{"c":"mid","g":"g2","i":3,"x":2.35,"y":1.5},{"c":"mid","g":"g2","i":4,"x":2.67,"y":1},{"c":"mid","g":"g2","i":5,"x":2.87,"y":0.5},{"c":"mid","g":"g2","i":6,"x":2.94,"y":0},{"c":"mid","g":"g2","i":7,"x":2.86,"y":-0.3},{"c":"mid","g":"g2","i":8,"x":2.64,"y":-0.53},{"c":"mid","g":"g2","i":9,"x":2.3,"y":-0.67},{"c":"mid","g":"g2","i":10,"x":1.7,"y":-0.65},{"c":"mid","g":"g2","i":11,"x":1,"y":-0.44},{"c":"mid","g":"g2","i":12,"x":0.5,"y":-0.24},{"c":"mid","g":"g2","i":13,"x":0.15,"y":-0.08},{"c":"mid","g":"g2","i":14,"x":0,"y":0},
{"c":"blue","g":"g7","i":0,"x":1,"y":3},{"c":"blue","g":"g7","i":1,"x":1.46,"y":2.5},{"c":"blue","g":"g7","i":2,"x":1.92,"y":2},{"c":"blue","g":"g7","i":3,"x":2.3,"y":1.5},{"c":"blue","g":"g7","i":4,"x":2.62,"y":1},{"c":"blue","g":"g7","i":5,"x":2.82,"y":0.5},{"c":"blue","g":"g7","i":6,"x":2.88,"y":0},{"c":"blue","g":"g7","i":7,"x":2.8,"y":-0.32},{"c":"blue","g":"g7","i":8,"x":2.56,"y":-0.58},{"c":"blue","g":"g7","i":9,"x":2.2,"y":-0.76},{"c":"blue","g":"g7","i":10,"x":1.8,"y":-0.82},{"c":"blue","g":"g7","i":11,"x":1.3,"y":-0.79},{"c":"blue","g":"g7","i":12,"x":0.8,"y":-0.63},{"c":"blue","g":"g7","i":13,"x":0.3,"y":-0.4},{"c":"blue","g":"g7","i":14,"x":0,"y":-0.22},{"c":"blue","g":"g7","i":15,"x":-0.22,"y":-0.05}
]
}
}
